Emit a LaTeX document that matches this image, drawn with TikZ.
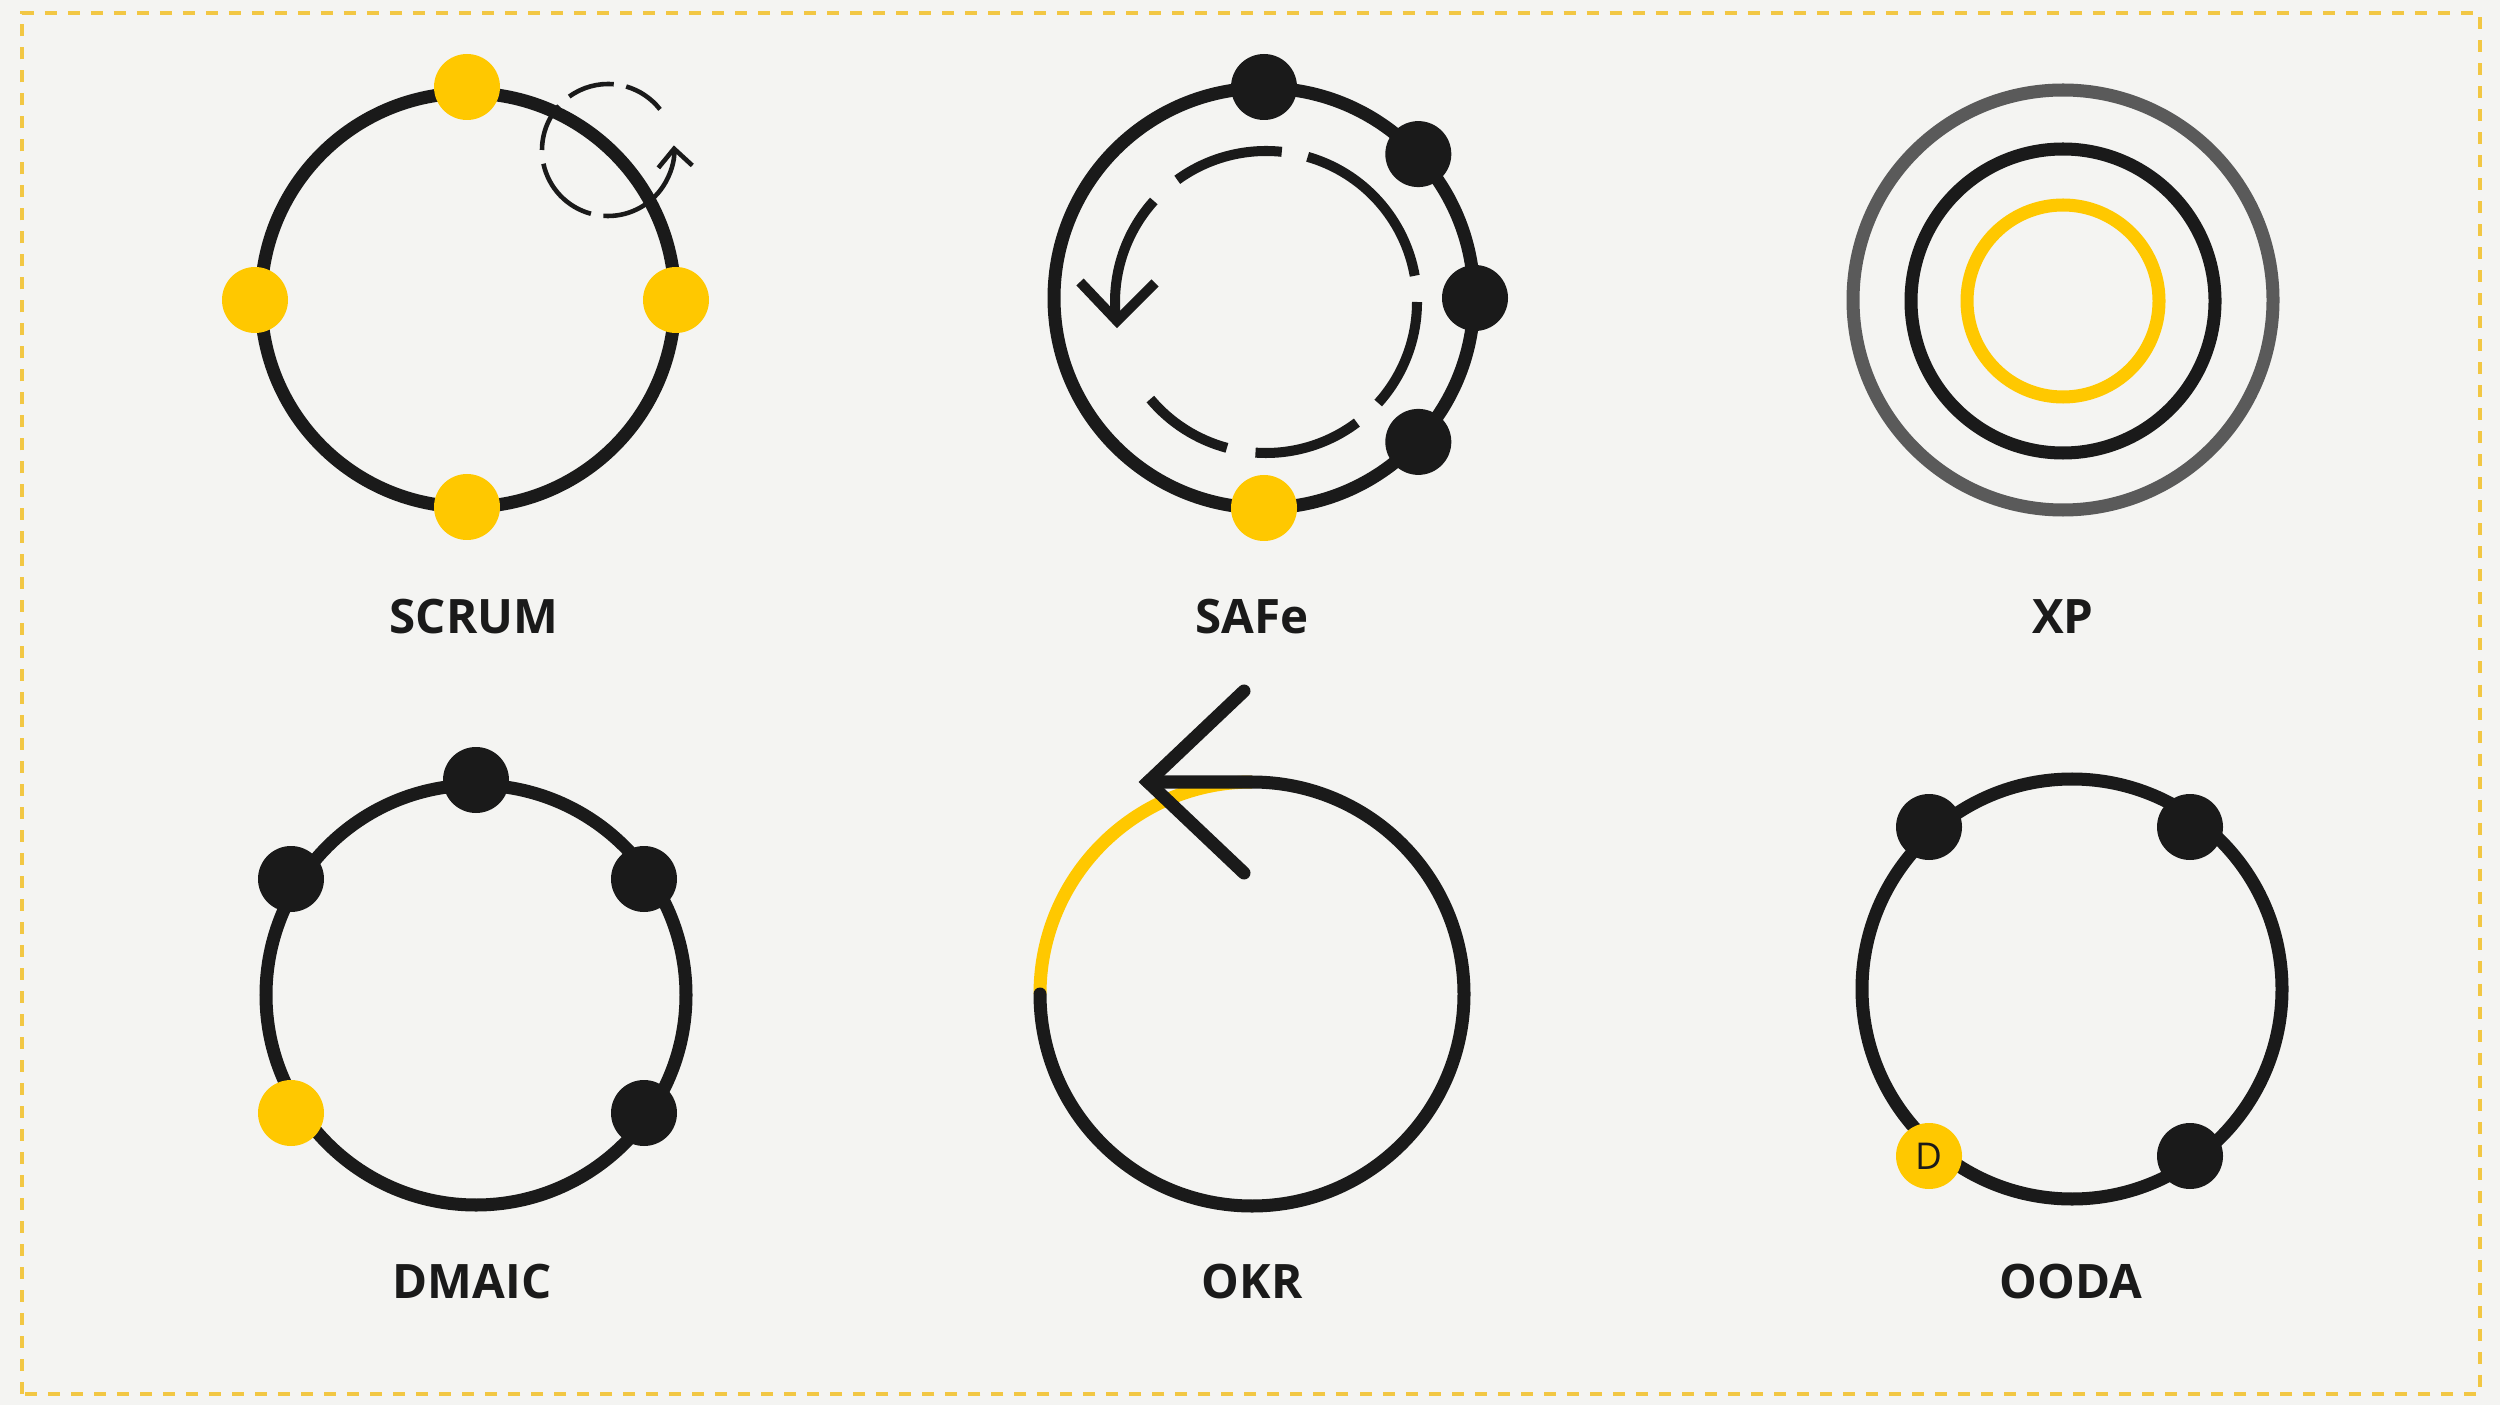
\documentclass[tikz,border=0pt]{standalone}
\usepackage{fontspec}
\setmainfont{Open Sans}
\usetikzlibrary{arrows.meta}
\definecolor{ink}{HTML}{1A1A1A}
\definecolor{sun}{HTML}{FFC800}
\definecolor{smoke}{HTML}{5A5A5A}
\definecolor{paper}{HTML}{F4F4F2}
\definecolor{frame}{HTML}{F2C744}
\begin{document}
\begin{tikzpicture}[x=0.01cm, y=0.01cm,
    ring/.style={line width=3.7pt, draw=ink},
    dashring/.style={line width=1.3pt, draw=ink},
    safering/.style={line width=2.85pt, draw=ink},
    blackdot/.style={fill=ink},
    yellowdot/.style={fill=sun},
    title/.style={font=\bfseries\fontsize{13.5}{16}\selectfont, text=ink}]

        % Background and frame
        \useasboundingbox (0,0) rectangle (2500,1405);
        \fill[paper] (0,0) rectangle (2500,1405);
        \draw[frame, line width=0.9pt, dash pattern=on 0.12cm off 0.11cm] (22,11) rectangle (2480,1392);

        % SCRUM
        \draw[ring] (468,1105) circle[radius=207];
        \foreach \s/\e in {38/74, 85/126, 138/180, 192/255}
            \draw[dashring] (608,1255) ++(\s:66) arc[start angle=\s, end angle=\e, radius=66];
        \draw[dashring, -{Straight Barb[length=0.18cm, width=0.34cm]}] (608,1255) ++(266:66) arc[start angle=266, end angle=364, radius=66];
        \foreach \p in {(467,1318),(255,1105),(676,1105),(467,898)}
            \fill[yellowdot] \p circle[radius=33];
        \node[title] (scrum) at (474,788) {SCRUM};

        % SAFe
        \draw[ring] (1264,1107) circle[radius=210];
        \foreach \s/\e in {-140/-105, -94/-53, -42/0, 10/74, 84/126, 138/187}
            \draw[safering] (1266,1103) ++(\s:151) arc[start angle=\s, end angle=\e, radius=151];
        \draw[safering, line join=miter] (1080,1123) -- (1117,1084) -- (1155,1122);
        \foreach \a in {90,43,0,-43}
            \fill[blackdot] (1264,1107) ++(\a:211) circle[radius=33];
        \fill[yellowdot] (1264,1107) ++(-90:210) circle[radius=33];
        \node[title] (safe) at (1252,788) {SAFe};

        % XP
        \draw[ring, draw=smoke] (2063,1105) circle[radius=210];
        \draw[ring] (2063,1104) circle[radius=152];
        \draw[ring, draw=sun] (2063,1104) circle[radius=96];
        \node[title] (xp) at (2063,788) {XP};

        % DMAIC
        \draw[ring] (476,410) circle[radius=210];
        \foreach \p in {(476,625),(291,526),(644,526),(644,292)}
            \fill[blackdot] \p circle[radius=33];
        \fill[yellowdot] (291,292) circle[radius=33];
        \node[title] (dmaic) at (472,123) {DMAIC};

        % OKR
        \draw[ring, draw=sun] (1040,411) arc[start angle=180, end angle=90, radius=212];
        \draw[ring, line cap=round] (1040,411) arc[start angle=180, end angle=450, radius=212] -- (1148,623);
        \draw[ring, line cap=round] (1244,714) -- (1148,623) -- (1244,532);
        \node[title] (okr) at (1252,123) {OKR};

        % OODA
        \draw[ring] (2072,416) circle[radius=210];
        \foreach \p in {(1929,578),(2190,578),(2190,249)}
            \fill[blackdot] \p circle[radius=33];
        \fill[yellowdot] (1929,249) coordinate (dpos) circle[radius=33];
        \node[font=\fontsize{10.5}{12}\selectfont, text=ink] (oodad) at (dpos) {D};
        \node[title] (ooda) at (2071,123) {OODA};
\end{tikzpicture}
\end{document}
